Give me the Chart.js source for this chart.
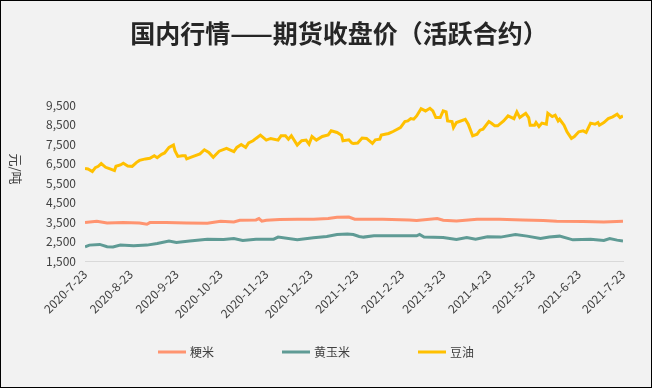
<!DOCTYPE html>
<html>
<head>
<meta charset="utf-8">
<script src="https://cdn.jsdelivr.net/npm/chart.js@4.4.1/dist/chart.umd.min.js"></script>
<style>
  html, body { margin: 0; padding: 0; background: #f2f2f2; }
  canvas { display: block; }
</style>
</head>
<body>
<canvas id="priceChart" width="652" height="388"></canvas>
<script>
// x values are days counted from 2020-7-23
const tickDays = [0, 31, 62, 92, 123, 153, 184, 215, 243, 274, 304, 335, 365];
const tickLabels = ["2020-7-23", "2020-8-23", "2020-9-23", "2020-10-23", "2020-11-23", "2020-12-23",
    "2021-1-23", "2021-2-23", "2021-3-23", "2021-4-23", "2021-5-23", "2021-6-23", "2021-7-23"];

const chartTitle = "国内行情——期货收盘价（活跃合约）";
const yTitle = "元/吨";
const seriesNames = ["粳米", "黄玉米", "豆油"];
const seriesColors = ["#ff9470", "#5f9b95", "#ffc000"];

// 粳米
const riceDays = [0, 8, 15, 26, 37, 42, 44, 55, 69, 83, 92, 101, 105, 116, 118, 120, 123, 132, 144, 155,
    165, 171, 179, 183, 186, 202, 220, 225, 239, 243, 252, 266, 281, 297, 311, 320, 338, 352, 365];
const ricePrice = [3470, 3540, 3450, 3470, 3450, 3385, 3470, 3470, 3450, 3435, 3540, 3500, 3590, 3605, 3675, 3540, 3590, 3625, 3640, 3640,
    3675, 3740, 3750, 3640, 3640, 3640, 3605, 3575, 3675, 3590, 3555, 3640, 3640, 3605, 3575, 3540, 3520, 3500, 3540];

// 黄玉米
const cornDays = [0, 3, 10, 15, 19, 24, 33, 42, 49, 57, 62, 71, 83, 94, 101, 107, 116, 128, 131, 144,
    155, 164, 171, 178, 182, 186, 189, 196, 207, 216, 225, 227, 230, 243, 252, 259, 265, 273, 282, 292,
    300, 309, 315, 322, 331, 343, 352, 356, 361, 365];
const cornPrice = [2230, 2315, 2350, 2230, 2215, 2315, 2280, 2315, 2400, 2520, 2455, 2520, 2620, 2605, 2655, 2555, 2620, 2620, 2725, 2585,
    2690, 2760, 2860, 2890, 2860, 2760, 2725, 2790, 2790, 2790, 2790, 2860, 2725, 2710, 2605, 2710, 2620, 2740, 2725, 2860,
    2775, 2655, 2725, 2775, 2585, 2620, 2555, 2655, 2570, 2520];

// 豆油
const oilDays = [0, 2, 5, 7, 9, 11, 14, 17, 20, 21, 24, 26, 29, 32, 35, 37, 41, 44, 47, 49,
    52, 54, 57, 60, 61, 63, 66, 68, 69, 73, 78, 81, 84, 87, 88, 91, 96, 101, 103, 106,
    109, 111, 114, 116, 119, 123, 126, 131, 133, 136, 138, 140, 144, 147, 150, 152, 154, 157, 161, 165,
    167, 171, 174, 175, 179, 181, 182, 185, 188, 191, 195, 197, 200, 201, 206, 209, 214, 217, 219, 221,
    223, 225, 228, 231, 234, 236, 238, 241, 243, 245, 246, 249, 250, 252, 258, 260, 263, 266, 268, 270,
    274, 276, 278, 280, 284, 287, 291, 293, 295, 299, 301, 302, 305, 306, 308, 310, 313, 314, 317, 319,
    321, 322, 325, 327, 330, 332, 335, 338, 340, 343, 346, 348, 349, 352, 355, 358, 361, 363, 365];
const oilPrice = [6250, 6220, 6085, 6290, 6355, 6495, 6305, 6220, 6135, 6355, 6425, 6510, 6375, 6355, 6560, 6660, 6735, 6765, 6900, 6800,
    6970, 7040, 7325, 7445, 7155, 6865, 6900, 6900, 6735, 6850, 6990, 7205, 7070, 6815, 6900, 7130, 7275, 7105, 7325, 7475,
    7325, 7550, 7665, 7785, 7955, 7700, 7785, 7700, 7920, 7920, 7750, 7920, 7445, 7665, 7700, 7495, 7885, 7700, 7885, 7970,
    8175, 8090, 7955, 7665, 7715, 7550, 7530, 7550, 7805, 7785, 7530, 7715, 7750, 7955, 8040, 8140, 8345, 8650, 8685, 8800,
    8770, 8940, 9310, 9195, 9330, 9195, 8855, 8855, 9195, 9145, 8685, 8650, 8345, 8600, 8770, 8515, 7920, 8005, 8210, 8260,
    8650, 8550, 8430, 8430, 8685, 8940, 8800, 9145, 8855, 9075, 8855, 8465, 8465, 8600, 8395, 8570, 8515, 9075, 8905, 8975,
    8685, 8770, 8465, 8125, 7785, 7885, 8125, 8175, 8090, 8570, 8515, 8600, 8465, 8600, 8800, 8890, 9025, 8855, 8940];

const FONT = "'Noto Sans CJK SC', 'Noto Sans', sans-serif";
const TEXT = "#404040";

function toPoints(days, prices) {
    return days.map((d, i) => ({ x: d, y: prices[i] }));
}

const seriesData = [toPoints(riceDays, ricePrice), toPoints(cornDays, cornPrice), toPoints(oilDays, oilPrice)];

// background, titles, legend and outer frame
const framePlugin = {
    id: "frame",
    beforeDraw(chart) {
        const ctx = chart.ctx;
        ctx.save();
        ctx.fillStyle = "#f2f2f2";
        ctx.fillRect(0, 0, chart.width, chart.height);
        ctx.restore();
    },
    afterDraw(chart) {
        const ctx = chart.ctx;
        ctx.save();

        // main title
        ctx.font = "bold 25px " + FONT;
        ctx.fillStyle = "#262626";
        ctx.textAlign = "center";
        ctx.textBaseline = "middle";
        ctx.fillText(chartTitle, 339, 33);

        // y axis title, reads top to bottom
        ctx.translate(16, 169);
        ctx.rotate(Math.PI / 2);
        ctx.font = "13px " + FONT;
        ctx.fillStyle = TEXT;
        ctx.fillText(yTitle, 0, 0);
        ctx.setTransform(1, 0, 0, 1, 0, 0);

        // legend
        ctx.font = "12px " + FONT;
        const lineLen = 28, gap = 4, spacing = 68, legendY = 352;
        const widths = chart.data.datasets.map(ds => lineLen + gap + ctx.measureText(ds.label).width);
        const total = widths.reduce((a, b) => a + b, 0) + spacing * (widths.length - 1);
        let x = 316 - total / 2;
        chart.data.datasets.forEach((ds, i) => {
            ctx.strokeStyle = ds.borderColor;
            ctx.lineWidth = 3;
            ctx.beginPath();
            ctx.moveTo(x, legendY);
            ctx.lineTo(x + lineLen, legendY);
            ctx.stroke();
            ctx.fillStyle = TEXT;
            ctx.textAlign = "left";
            ctx.textBaseline = "middle";
            ctx.fillText(ds.label, x + lineLen + gap, legendY);
            x += widths[i] + spacing;
        });

        ctx.strokeStyle = "#000";
        ctx.lineWidth = 1;
        ctx.strokeRect(0.5, 0.5, chart.width - 1, chart.height - 1);
        ctx.restore();
    }
};

Chart.defaults.font.family = FONT;
Chart.defaults.color = TEXT;

new Chart(document.getElementById("priceChart"), {
    type: "line",
    data: {
        datasets: seriesNames.map((name, i) => ({
            label: name,
            data: seriesData[i],
            borderColor: seriesColors[i],
            backgroundColor: seriesColors[i],
            borderWidth: 3,
            pointRadius: 0,
            tension: 0
        }))
    },
    options: {
        responsive: false,
        animation: false,
        devicePixelRatio: 1,
        layout: { padding: { left: 0, right: 29, top: 105, bottom: 42 } },
        plugins: {
            legend: { display: false },
            tooltip: { enabled: false },
            title: { display: false }
        },
        scales: {
            x: {
                type: "linear",
                min: 0,
                max: 365,
                grid: { display: false, drawTicks: false },
                border: { display: true, color: "#d9d9d9", width: 1 },
                afterBuildTicks: scale => {
                    scale.ticks = tickDays.map(v => ({ value: v }));
                },
                afterFit: scale => { scale.height = 85; },
                ticks: {
                    minRotation: 45,
                    maxRotation: 45,
                    padding: 6,
                    font: { size: 12 },
                    callback: (v, i) => tickLabels[i]
                }
            },
            y: {
                min: 1500,
                max: 9500,
                grid: { display: false, drawTicks: false },
                border: { display: false },
                afterFit: scale => { scale.width = 85; },
                ticks: {
                    stepSize: 1000,
                    padding: 9,
                    font: { size: 12 },
                    callback: v => v.toLocaleString("en-US")
                }
            }
        }
    },
    plugins: [framePlugin]
});
</script>
</body>
</html>
